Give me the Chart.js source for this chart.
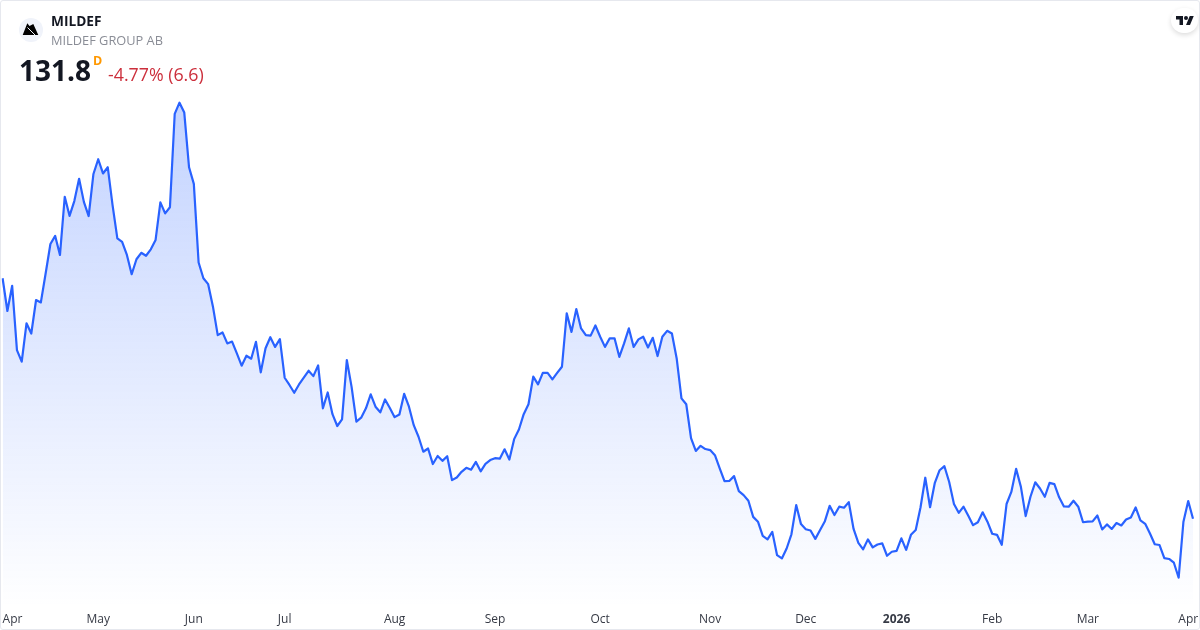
<!DOCTYPE html>
<html>
<head>
<meta charset="utf-8">
<title>MILDEF</title>
<script src="https://cdn.jsdelivr.net/npm/chart.js@4"></script>
<style>
    html, body { margin: 0; padding: 0; background: #fff; }
    body { width: 1200px; height: 630px; overflow: hidden; position: relative; font-family: "Open Sans", sans-serif; }
    #frame { position: absolute; left: 0; top: 0; width: 1198px; height: 628px; border: 1px solid #e6e8ee; border-radius: 3px; pointer-events: none; }
    #priceChart { position: absolute; left: 0; top: 0; }
    .txt { position: absolute; white-space: nowrap; line-height: 1; }
    #symbol { left: 51px; top: 14px; font-size: 13.7px; font-weight: 700; color: #131722; }
    #company { left: 51px; top: 34px; font-size: 12.8px; color: #8a8d96; }
    #price { left: 19px; top: 56px; font-size: 28px; font-weight: 700; color: #131722; }
    #interval { left: 93px; top: 55px; font-size: 12.5px; font-weight: 700; color: #ff9800; }
    #change { left: 108px; top: 66px; font-size: 17.8px; color: #cc2f3c; }
    #logo { position: absolute; left: 19px; top: 18px; }
    #tvBadge { position: absolute; left: 1171px; top: 8px; width: 27px; height: 25px; background: #fff; border-radius: 13px; box-shadow: 0 2px 5px rgba(0,0,0,0.14); }
    #tvBadge svg { position: absolute; left: 5px; top: 6px; }
</style>
</head>
<body>
<canvas id="priceChart" width="1200" height="630"></canvas>
<div id="frame"></div>
<svg id="logo" width="24" height="24" viewBox="0 0 24 24">
    <circle cx="12" cy="12" r="12" fill="#f0f3fa"/>
    <path d="M3.7 17 8.3 5.3 10.5 8 14.3 6 19.3 17Z" fill="#000"/>
    <path d="M8.5 9.5 16 17" stroke="#f0f3fa" stroke-width="1"/>
</svg>
<div class="txt" id="symbol">MILDEF</div>
<div class="txt" id="company">MILDEF GROUP AB</div>
<div class="txt" id="price">131.8</div>
<div class="txt" id="interval">D</div>
<div class="txt" id="change">-4.77% (6.6)</div>
<div id="tvBadge">
    <svg width="18" height="12" viewBox="0 0 36 24"><path d="M14 22H7V11H0V4h14v18zM28 22h-8l7.5-18h8L28 22z" fill="#131722"/><circle cx="20" cy="8" r="4" fill="#131722"/></svg>
</div>
<script>
// daily closes
const closes = [
    221.5, 209.3, 218.7, 194.7, 190.4, 204.7, 200.9, 213.4, 212.5, 223.3,
    234.3, 237.3, 230.2, 251.9, 244.8, 250.3, 258.6, 250.0, 244.7, 260.4,
    265.9, 260.6, 262.9, 248.8, 236.4, 235.1, 230.2, 223.0, 228.6, 231.0,
    229.9, 232.3, 235.8, 249.8, 245.7, 248.0, 282.8, 287.0, 283.3, 262.9,
    256.7, 227.4, 221.5, 219.3, 210.9, 200.3, 201.3, 197.2, 197.9, 193.5,
    188.9, 192.6, 191.5, 197.8, 186.4, 195.4, 199.5, 195.9, 198.8, 184.4,
    181.7, 178.8, 181.9, 184.4, 187.0, 185.0, 189.0, 173.0, 178.9, 170.8,
    166.4, 168.9, 191.0, 181.0, 168.0, 169.5, 173.0, 178.2, 173.6, 171.5,
    176.3, 173.1, 169.7, 170.7, 178.4, 173.6, 166.7, 162.4, 156.8, 158.0,
    152.2, 155.2, 153.4, 155.1, 146.2, 147.2, 149.3, 150.8, 150.1, 153.0,
    149.5, 152.3, 153.7, 154.4, 154.2, 157.7, 153.9, 161.5, 165.1, 170.8,
    174.5, 184.8, 181.9, 186.2, 186.2, 183.8, 186.2, 188.5, 208.4, 201.5,
    210.0, 202.8, 200.3, 200.1, 203.9, 199.7, 195.9, 199.1, 199.1, 192.2,
    197.2, 202.8, 195.9, 198.7, 199.7, 195.7, 199.3, 192.5, 199.7, 201.9,
    200.9, 191.6, 176.7, 174.5, 161.9, 157.1, 159.0, 157.8, 157.4, 155.5,
    150.6, 145.8, 145.9, 147.7, 142.1, 140.6, 138.5, 132.5, 130.7, 125.4,
    124.1, 126.9, 118.2, 117.0, 120.7, 126.0, 136.9, 129.8, 127.9, 127.4,
    124.3, 127.6, 130.9, 136.6, 133.2, 136.3, 135.9, 138.0, 128.0, 122.8,
    120.4, 124.1, 121.1, 122.2, 122.6, 118.0, 119.5, 119.8, 124.5, 120.2,
    125.8, 127.6, 136.0, 147.1, 136.1, 145.2, 149.9, 151.4, 145.5, 137.3,
    134.0, 136.3, 132.9, 129.4, 130.5, 134.2, 130.7, 126.2, 125.8, 122.1,
    137.3, 141.8, 150.4, 143.7, 132.8, 140.0, 145.4, 143.1, 140.0, 145.2,
    144.7, 139.8, 136.4, 136.3, 138.5, 136.3, 130.5, 130.7, 130.8, 133.0,
    127.8, 129.7, 128.0, 130.2, 129.3, 131.5, 132.3, 136.0, 131.2, 129.9,
    126.3, 122.3, 122.0, 117.1, 116.8, 115.4, 109.8, 130.7, 138.4, 131.8
];
const monthLabels = ['Apr', 'May', 'Jun', 'Jul', 'Aug', 'Sep', 'Oct', 'Nov', 'Dec', '2026', 'Feb', 'Mar', 'Apr'];
const monthStarts = [0, 20, 40, 59, 82, 103, 125, 148, 168, 187, 207, 227, 248];

// one category per trading day, named after the month it falls in
const categories = closes.map((_, i) => {
    let m = 0;
    while (m + 1 < monthStarts.length && monthStarts[m + 1] <= i) m++;
    return monthLabels[m];
});

new Chart(document.getElementById('priceChart').getContext('2d'), {
    type: 'line',
    data: {
        labels: categories,
        datasets: [{
            data: closes,
            borderColor: '#2962ff',
            borderWidth: 2.2,
            borderJoinStyle: 'round',
            pointRadius: 0,
            tension: 0,
            fill: 'start',
            backgroundColor: (ctx) => {
                const { chart } = ctx;
                if (!chart.chartArea) return 'rgba(41,98,255,0.15)';
                const top = chart.scales.y.getPixelForValue(Math.max(...closes));
                const g = chart.ctx.createLinearGradient(0, top, 0, chart.chartArea.bottom + 6);
                g.addColorStop(0, 'rgba(41,98,255,0.28)');
                g.addColorStop(1, 'rgba(41,98,255,0)');
                return g;
            }
        }]
    },
    options: {
        responsive: false,
        animation: false,
        layout: { autoPadding: false, padding: { left: 2.6, right: 7, top: 0, bottom: 0 } },
        plugins: { legend: { display: false }, tooltip: { enabled: false } },
        scales: {
            x: {
                grid: { display: false, tickLength: 8 },
                border: { display: false },
                afterFit: (scale) => { scale.height = 26; },
                ticks: {
                    autoSkip: false,
                    maxRotation: 0,
                    minRotation: 0,
                    align: 'inner',
                    padding: 0,
                    color: '#363a45',
                    font: (ctx) => ({
                        family: '"Open Sans", sans-serif',
                        size: 12,
                        weight: ctx.tick && ctx.tick.label === '2026' ? '700' : '400'
                    }),
                    // the empty last tick keeps the closing Apr centred under its point
                    callback: (value, index) => {
                        if (index === closes.length - 1) return '';
                        const m = monthStarts.indexOf(index);
                        return m === -1 ? null : monthLabels[m];
                    }
                }
            },
            y: { display: false, min: 100, max: 325.3 }
        }
    }
});
</script>
</body>
</html>
